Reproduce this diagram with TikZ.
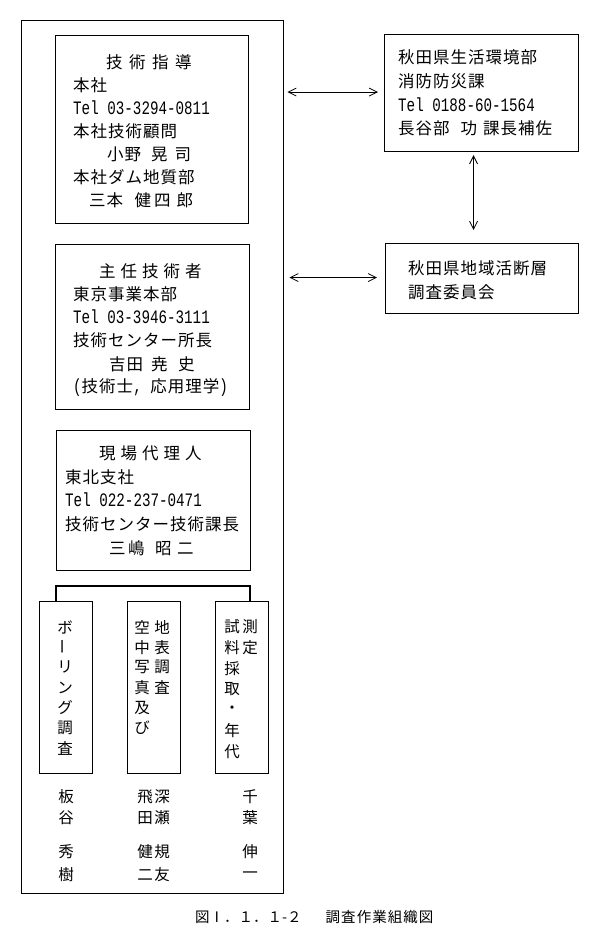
\documentclass[tikz,border=0pt]{standalone}
\usepackage{fontspec}
\usepackage{graphicx}
\usetikzlibrary{arrows.meta,calc}
\newfontfamily\jp{Noto Sans CJK JP}[LetterSpace=6.1]
\newfontfamily\jpv{Noto Sans CJK JP}
\newfontfamily\jpc{Noto Sans CJK JP}[LetterSpace=7]
\newfontfamily\lat{Liberation Mono}[Scale=1.15,FakeStretch=0.75]
\begin{document}
\begin{tikzpicture}[x=1pt,y=-1pt,
  obox/.style={draw, line width=1.4pt, inner sep=0pt, anchor=north west},
  box/.style={draw, line width=1.1pt, inner sep=0pt, anchor=north west},
  ln/.style={anchor=west, inner sep=0pt, font=\jp\fontsize{16.5}{19}\selectfont},
  vc/.style={inner sep=0pt, font=\jpv\fontsize{15.5}{18}\selectfont},
  arr/.style={{Straight Barb[length=8pt,width=8pt]}-{Straight Barb[length=8pt,width=8pt]}, line width=0.8pt},
  link/.style={line width=1.1pt}]
\fill[white] (0,0) rectangle (595,941);
\useasboundingbox (0,0) rectangle (595,941);

% frames
\node[obox, minimum width=262pt, minimum height=873pt] (outer) at (21,20) {};
\node[box, minimum width=193pt, minimum height=188pt] (b1) at (55,35) {};
\node[box, minimum width=194pt, minimum height=165pt] (b2) at (55,244) {};
\node[box, minimum width=194pt, minimum height=140pt] (b3) at (56,430) {};
\node[box, minimum width=194pt, minimum height=117pt] (bA) at (384,34) {};
\node[box, minimum width=193pt, minimum height=70pt] (bB) at (385,243) {};
\node[box, minimum width=53pt, minimum height=172pt] (v1) at (39,601) {};
\node[box, minimum width=53pt, minimum height=172pt] (v2) at (127,601) {};
\node[box, minimum width=53pt, minimum height=172pt] (v3) at (215,601) {};

% box 1
\node[ln] (b1l1) at (106,62) {技\hspace{6.5pt}術\hspace{6.5pt}指\hspace{6.5pt}導};
\node[ln] (b1l2) at (73,85) {本社};
\node[ln] (b1l3) at (73,108) {\lat Tel 03-3294-0811};
\node[ln] (b1l4) at (73,131) {本社技術顧問};
\node[ln] (b1l5) at (107,154) {小野\hspace{10pt}晃\hspace{7pt}司};
\node[ln] (b1l6) at (73,177) {本社ダム地質部};
\node[ln] (b1l7) at (89,200) {三本\hspace{11.5pt}健\hspace{3pt}四\hspace{6pt}郎};

% box 2
\node[ln] (b2l1) at (99,271) {主\hspace{5pt}任\hspace{5pt}技\hspace{5pt}術\hspace{5pt}者};
\node[ln] (b2l2) at (73,294) {東京事業本部};
\node[ln] (b2l3) at (73,317) {\lat Tel 03-3946-3111};
\node[ln] (b2l4) at (73,340) {技術センター所長};
\node[ln] (b2l5) at (109,364) {吉田\hspace{8pt}尭\hspace{10.5pt}史};
\node[ln] (b2l6) at (73,387) {{\lat(}技術士{\lat, }応用理学{\lat)}};

% box 3
\node[ln] (b3l1) at (99,453) {現\hspace{5pt}場\hspace{5pt}代\hspace{5pt}理\hspace{5pt}人};
\node[ln] (b3l2) at (65,477) {東北支社};
\node[ln] (b3l3) at (65,500) {\lat Tel 022-237-0471};
\node[ln] (b3l4) at (65,524) {技術センター技術課長};
\node[ln] (b3l5) at (109,548) {三\hspace{2.5pt}嶋\hspace{10.5pt}昭\hspace{5.5pt}二};

% box A
\node[ln] (bAl1) at (398,57) {秋田県生活環境部};
\node[ln] (bAl2) at (398,81) {消防防災課};
\node[ln] (bAl3) at (398,105) {\lat Tel 0188-60-1564};
\node[ln] (bAl4) at (398,128) {長谷部\hspace{11pt}功\hspace{6pt}課長補佐};

% box B
\node[ln] (bBl1) at (408,268) {秋田県地域活断層};
\node[ln] (bBl2) at (408,292) {調査委員会};

% vertical texts
\foreach \c [count=\i] in {ボ,{\rotatebox{90}{ー}},リ,ン,グ,調,査}
  \node[vc] (v1c\i) at (65,{627+20.2*(\i-1)}) {\c};
\foreach \c [count=\i] in {地,表,調,査}
  \node[vc] (v2r\i) at (162,{627+20.2*(\i-1)}) {\c};
\foreach \c [count=\i] in {空,中,写,真,及,び}
  \node[vc] (v2l\i) at (142,{627+20.2*(\i-1)}) {\c};
\foreach \c [count=\i] in {測,定}
  \node[vc] (v3r\i) at (250,{627+20.8*(\i-1)}) {\c};
\foreach \c [count=\i] in {試,料,採,取,・,年,代}
  \node[vc] (v3l\i) at (232,{627+20.8*(\i-1)}) {\c};

% names
\foreach \c/\y [count=\i] in {板/797,谷/818,秀/852,樹/875}
  \node[vc] (na\i) at (66,\y) {\c};
\foreach \c/\y [count=\i] in {飛/797,田/818,健/852,二/875}
  \node[vc] (nb\i) at (145,\y) {\c};
\foreach \c/\y [count=\i] in {深/797,瀬/818,規/852,友/875}
  \node[vc] (nc\i) at (162,\y) {\c};
\foreach \c/\y [count=\i] in {千/797,葉/818,伸/852,一/875}
  \node[vc] (nd\i) at (250,\y) {\c};

% bracket
\coordinate (brL) at (56,586);
\coordinate (brR) at (250,586);
\draw[link] (v1.north -| brL) -- (brL) -- (brR) -- (v3.north -| brR);

% arrows
\draw[arr] ($(outer.east |- bA.west)+(3,-1)$) -- ($(bA.west)+(-6,-1)$);
\draw[arr] ($(outer.east |- bB.west)+(5,-1)$) -- ($(bB.west)+(-8,-1)$);
\draw[arr] ($(bA.south)+(-8,3)$) -- ($(bA.south |- bB.north)+(-8,-13)$);

% caption
\node[anchor=west, inner sep=0pt, font=\fontsize{14.5}{16}\selectfont] (cap) at (195,917)
  {{\jpc 図}{\jpv Ⅰ．１．１-２}\hspace{24pt}{\jpc 調査作業組織図}};
\end{tikzpicture}
\end{document}
